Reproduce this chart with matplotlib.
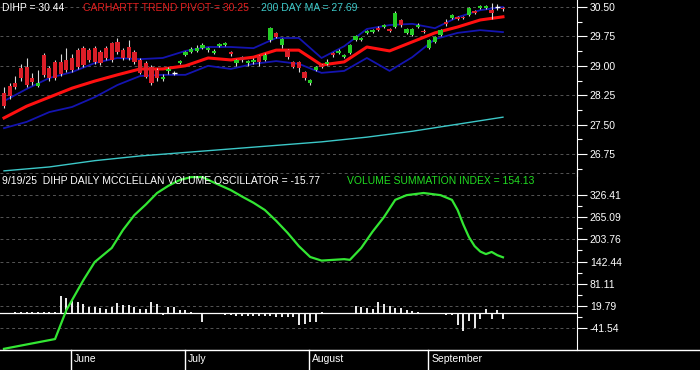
import numpy as np
import pandas as pd
import matplotlib
matplotlib.use('Agg')
import matplotlib.pyplot as plt
import matplotlib.transforms as mtransforms
from matplotlib.lines import Line2D

plt.rcParams['font.family'] = ['Liberation Sans', 'DejaVu Sans']

# --------------------
# Données
# --------------------

# Séances de bourse du 14/05/2025 au 19/09/2025
holidays = ['2025-05-26', '2025-06-19', '2025-07-04', '2025-09-01']
dates = pd.bdate_range('2025-05-14', '2025-09-19')
dates = dates[~dates.isin(pd.to_datetime(holidays))]

# Chandeliers DIHP
opens = [28.30, 28.48, 28.56, 28.94, 28.97, 28.70, 28.48, 29.28, 28.94, 29.10,
         29.10, 29.15, 29.20, 29.40, 29.45, 29.40, 29.45, 29.35, 29.45, 29.58,
         29.61, 29.40, 29.48, 29.35, 29.15, 29.07, 28.97, 28.89, 28.66, 28.88,
         28.82, 29.07, 29.28, 29.36, 29.38, 29.45, 29.40, 29.33, 29.50, 29.53,
         29.35, 29.08, 29.22, 29.08, 29.10, 29.25, 29.15, 29.66, 29.83, 29.53,
         29.40, 29.10, 29.10, 28.84, 28.56, 28.89, 29.02, 29.05, 29.33, 29.33,
         29.23, 29.33, 29.66, 29.66, 29.84, 29.86, 29.96, 29.99, 29.93, 29.99,
         30.17, 29.84, 29.79, 29.99, 29.90, 29.45, 29.61, 29.79, 30.12, 30.22,
         30.25, 30.24, 30.30, 30.40, 30.48, 30.48, 30.42, 30.50, 30.47]
closes = [27.98, 28.22, 28.46, 28.69, 28.51, 28.58, 28.56, 28.77, 28.69, 28.70,
          28.80, 28.90, 28.90, 28.97, 29.02, 29.15, 29.10, 29.07, 29.20, 29.15,
          29.35, 29.20, 29.20, 29.10, 28.82, 28.72, 28.56, 28.69, 28.72, 28.93,
          28.82, 29.13, 29.35, 29.44, 29.45, 29.53, 29.45, 29.38, 29.55, 29.57,
          29.30, 29.15, 29.15, 29.12, 29.15, 29.10, 29.28, 29.96, 29.73, 29.68,
          29.22, 28.97, 28.94, 28.69, 28.64, 28.97, 28.97, 29.10, 29.28, 29.38,
          29.28, 29.53, 29.76, 29.71, 29.89, 29.91, 29.91, 30.04, 29.88, 30.35,
          30.04, 29.94, 29.94, 30.04, 29.86, 29.66, 29.74, 29.91, 30.07, 30.30,
          30.20, 30.22, 30.48, 30.35, 30.52, 30.53, 30.35, 30.50, 30.44]
highs = [28.45, 28.55, 28.75, 29.05, 29.20, 28.82, 28.89, 29.33, 29.00, 29.15,
         29.30, 29.45, 29.30, 29.45, 29.50, 29.45, 29.50, 29.40, 29.50, 29.62,
         29.70, 29.45, 29.65, 29.40, 29.20, 29.12, 29.02, 28.95, 28.78, 28.98,
         28.88, 29.16, 29.38, 29.47, 29.52, 29.58, 29.49, 29.42, 29.58, 29.62,
         29.38, 29.18, 29.26, 29.16, 29.20, 29.28, 29.32, 30.00, 29.86, 29.70,
         29.43, 29.13, 29.12, 28.87, 28.67, 29.00, 29.05, 29.18, 29.36, 29.42,
         29.31, 29.56, 29.79, 29.74, 29.92, 29.94, 30.01, 30.07, 29.96, 30.40,
         30.20, 29.97, 29.97, 30.09, 29.93, 29.69, 29.77, 29.94, 30.20, 30.33,
         30.28, 30.27, 30.51, 30.43, 30.56, 30.56, 30.60, 30.58, 30.50]
lows = [27.92, 28.15, 28.40, 28.62, 28.45, 28.50, 28.45, 28.72, 28.62, 28.65,
        28.75, 28.85, 28.85, 28.92, 28.98, 29.10, 29.05, 29.02, 29.15, 29.10,
        29.30, 29.15, 29.15, 29.05, 28.78, 28.68, 28.50, 28.62, 28.62, 28.78,
        28.76, 29.04, 29.25, 29.33, 29.35, 29.42, 29.36, 29.30, 29.47, 29.50,
        29.25, 29.00, 29.10, 29.00, 29.05, 29.00, 29.12, 29.62, 29.70, 29.45,
        29.18, 28.94, 28.85, 28.64, 28.52, 28.86, 28.94, 29.02, 29.22, 29.30,
        29.20, 29.30, 29.63, 29.63, 29.81, 29.83, 29.88, 29.96, 29.85, 29.96,
        30.00, 29.81, 29.76, 29.96, 29.83, 29.42, 29.58, 29.76, 30.02, 30.19,
        30.17, 30.19, 30.27, 30.32, 30.45, 30.45, 30.20, 30.42, 30.40]

# Indicateurs de prix (relevés toutes les 4 séances)
band_idx = [0, 4, 8, 12, 16, 20, 24, 28, 32, 36, 40, 44, 48, 52, 56, 60, 64, 68, 72, 76, 80, 84, 88]
pivot = [27.67, 27.97, 28.20, 28.43, 28.61, 28.77, 28.92, 28.92, 29.00, 29.20, 29.15, 29.22,
         29.40, 29.40, 29.02, 29.10, 29.48, 29.38, 29.61, 29.84, 29.99, 30.17, 30.25]
upper_band = [28.10, 28.41, 28.69, 28.84, 29.07, 29.20, 29.17, 29.20, 29.38, 29.48, 29.48, 29.45,
              29.71, 29.71, 29.20, 29.50, 29.94, 30.04, 30.07, 29.96, 30.24, 30.42, 30.50]
lower_band = [27.41, 27.57, 27.82, 27.95, 28.20, 28.51, 28.74, 28.77, 28.77, 29.00, 28.92, 29.05,
              29.12, 29.05, 28.82, 28.87, 29.20, 28.87, 29.22, 29.68, 29.84, 29.91, 29.86]

# Moyenne mobile 200 jours
ma_idx = [0, 8, 16, 24, 32, 40, 48, 56, 64, 72, 80, 88]
ma200 = [26.32, 26.42, 26.58, 26.70, 26.79, 26.88, 26.97, 27.06, 27.18, 27.33, 27.51, 27.69]

# Volume summation index
vsi_idx = [0, 9, 11, 14, 16, 19, 21, 23, 25, 27, 29, 31, 33, 35, 37, 40, 42, 44, 46, 48, 50, 52,
           54, 56, 58, 60, 61, 63, 65, 67, 69, 71, 74, 77, 79, 80, 81, 82, 83, 84, 85, 86, 87, 88]
vsi = [-99, -72, 8, 91, 141, 180, 230, 271, 300, 332, 352, 368, 376, 376, 361, 340, 322, 305,
       285, 255, 222, 185, 155, 145, 147, 149, 147, 180, 225, 265, 313, 326, 332, 326, 313, 285,
       245, 210, 185, 170, 163, 169, 160, 154.13]

# McClellan volume oscillator (histogramme)
mvo = [0, 0, 3, 3, 3, 3, 3, 3, 3, 3,
       47, 41, 32, 30, 26, 18, 18, 14, 11, 17,
       28, 23, 23, 17, 11, 11, 30, 26, -5, 18,
       17, 9, 7, 3, 0, -26, 0, -3, -3, -6,
       -6, -8, -9, -9, -9, -9, -9, -9, -12, -12,
       -12, -12, -33, -31, -26, -24, 3, 0, 0, 0,
       -3, -3, 20, 17, 15, 11, 31, 26, 20, 13,
       13, 9, 6, 4, 0, 0, -3, -3, -6, -6,
       -32, -51, -23, -41, -16, 12, -16, 9, -15.77]

top_ticks = [26.75, 27.50, 28.25, 29.00, 29.75, 30.50]
bot_ticks = [-41.54, 19.79, 81.11, 142.44, 203.76, 265.09, 326.41]
bot_grid_extra = 387.74

# --------------------
# Mise en page (pixels -> fraction de figure)
# --------------------
W, H = 700, 370
def fy(py):
    return 1 - py / H

fig = plt.figure(figsize=(7, 3.7), dpi=100, facecolor='black')
right = 577 / W
ax1 = fig.add_axes([0, fy(176), right, fy(0) - fy(176)], facecolor='black')
ax2 = fig.add_axes([0, fy(350), right, fy(170) - fy(350)])
ax2.patch.set_alpha(0)

xlim = (-4 / 5.67, 573 / 5.67)
for ax in (ax1, ax2):
    ax.set_xlim(*xlim)
    ax.set_xticks([])
    for s in ('top', 'left', 'bottom'):
        ax.spines[s].set_visible(False)
    ax.spines['right'].set_color('white')
    ax.yaxis.tick_right()
    ax.tick_params(axis='y', which='major', colors='white', length=7.2, width=0.8,
                   pad=2, labelsize=7.5)
    ax.tick_params(axis='y', which='minor', colors='white', length=3.6, width=0.8)

ax1.set_ylim(26.189, 30.679)
ax2.set_ylim(-102.3, 395.6)

grid_kw = dict(color='#555555', lw=0.7, ls=(0, (3, 3)), zorder=0)

# Panneau du haut
ax1.set_yticks(top_ticks, [f'{v:.2f}' for v in top_ticks])
ax1.set_yticks([v - 0.375 for v in top_ticks], minor=True)
for v in top_ticks:
    ax1.axhline(v, **grid_kw)

x = np.arange(len(closes))
o = np.array(opens)
c = np.array(closes)
colors = np.where(c > o, '#25cc25', np.where(c < o, '#dc1e28', 'white'))

ax1.plot(ma_idx, ma200, color='#3cc8c8', lw=1.0, zorder=2)
ax1.plot(band_idx, upper_band, color='#1414b0', lw=1.3, zorder=2)
ax1.plot(band_idx, lower_band, color='#1414b0', lw=1.3, zorder=2)
ax1.plot(band_idx, pivot, color='#ff1010', lw=2.2, zorder=2)

ax1.vlines(x, lows, highs, color='#d8d8d8', lw=0.8, zorder=3)
body = np.abs(c - o)
ax1.bar(x, body, bottom=np.minimum(o, c), width=0.75, color=colors, lw=0, zorder=4)
doji = body == 0
ax1.hlines(c[doji], x[doji] - 0.45, x[doji] + 0.45, color='white', lw=1.0, zorder=4)

# Panneau du bas
ax2.set_yticks(bot_ticks, [f'{v:.2f}' for v in bot_ticks])
ax2.set_yticks([(a + b) / 2 for a, b in zip(bot_ticks[:-1], bot_ticks[1:])], minor=True)
for v in bot_ticks + [bot_grid_extra]:
    ax2.axhline(v, **grid_kw)
ax2.axhline(0, color='white', lw=0.9, zorder=2)
ax2.vlines(x, 0, mvo, color='white', lw=1.3, zorder=3)
ax2.plot(vsi_idx, vsi, color='#33e633', lw=1.6, zorder=4)

# Textes
txt = dict(fontsize=7.5, va='center', ha='left')
fig.text(2 / W, fy(8), 'DIHP = 30.44', color='white', **txt)
fig.text(83 / W, fy(8), 'CARHARTT TREND PIVOT = 30.25', color='#e01e1e', **txt)
fig.text(261 / W, fy(8), '200 DAY MA = 27.69', color='#3cc8c8', **txt)
fig.text(2 / W, fy(181), '9/19/25  DIHP DAILY MCCLELLAN VOLUME OSCILLATOR = -15.77',
         color='white', **txt)
fig.text(347 / W, fy(181), 'VOLUME SUMMATION INDEX = 154.13', color='#22dd22', **txt)

# Axe des dates
fig.add_artist(Line2D([0, 1], [fy(350), fy(350)], color='white', lw=1.0,
                      transform=fig.transFigure))
trans = mtransforms.blended_transform_factory(ax2.transData, fig.transFigure)
month_start = [i for i in range(1, len(dates)) if dates[i].month != dates[i - 1].month]
for i in month_start:
    xm = i - 0.15
    fig.add_artist(Line2D([xm, xm], [fy(350), 0], color='white', lw=1.0, transform=trans))
    fig.text(xm + 0.5, fy(359), dates[i].strftime('%B'), color='white', transform=trans,
             **txt)

fig.savefig('out.png', dpi=100, facecolor='black')
